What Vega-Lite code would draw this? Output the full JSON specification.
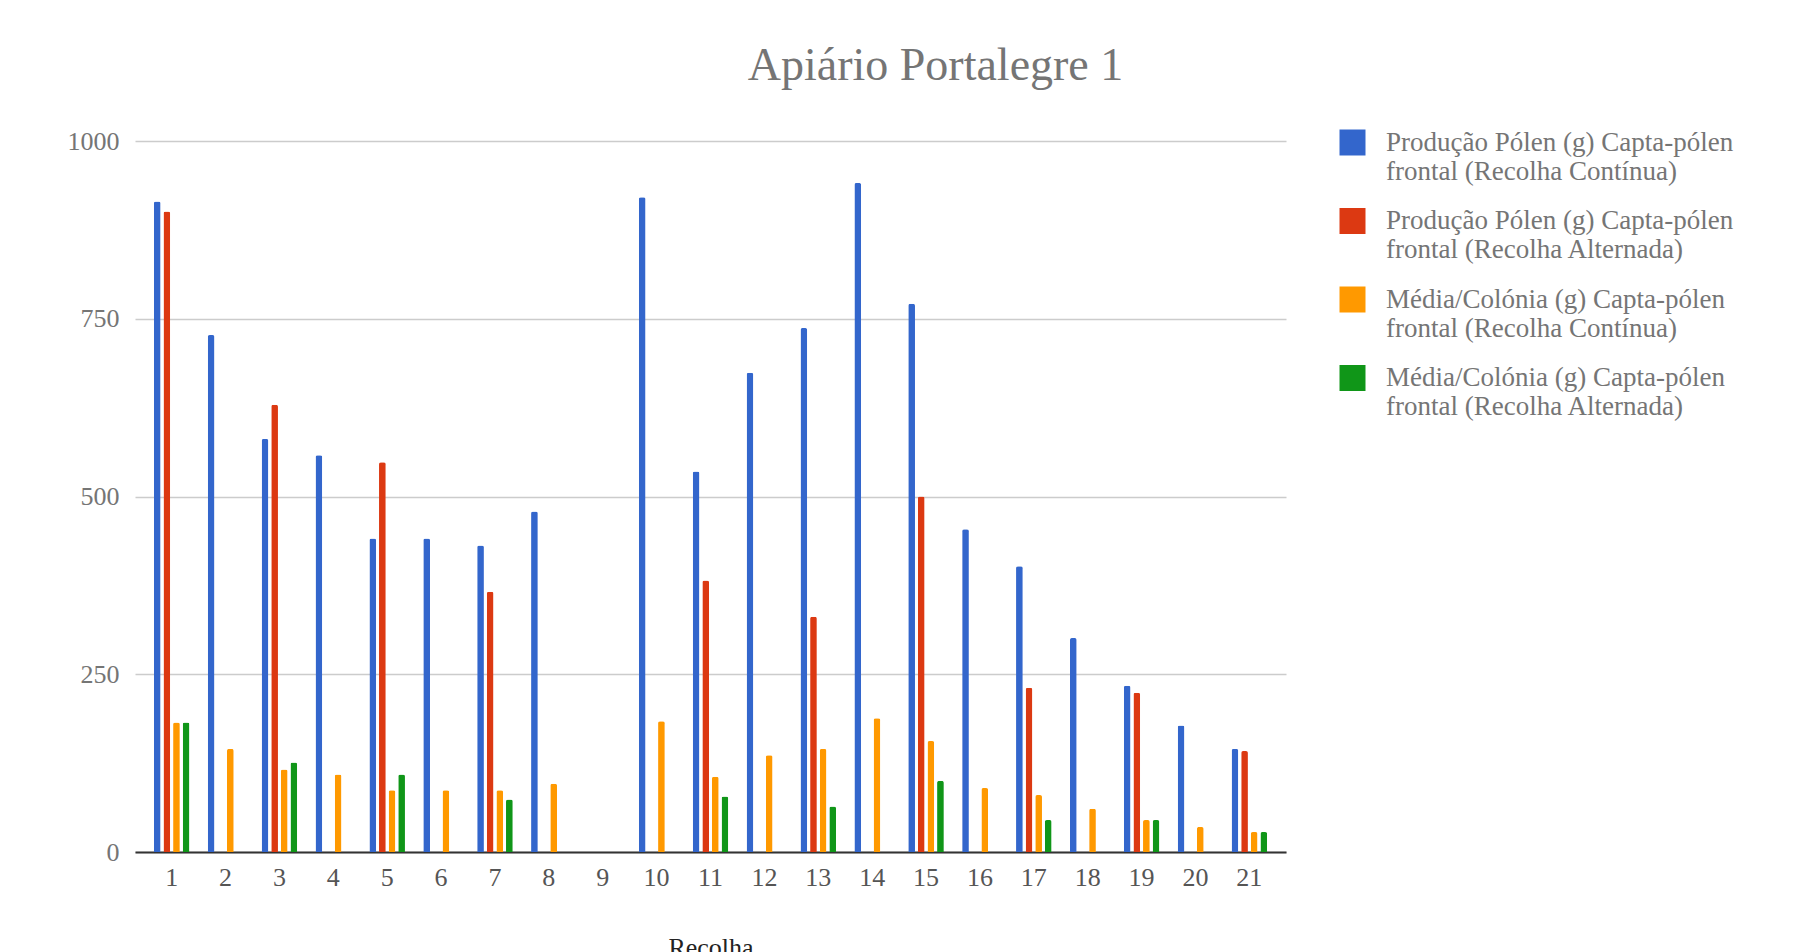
{
  "$schema": "https://vega.github.io/schema/vega-lite/v6.json",
  "autosize": "none",
  "width": 1151,
  "height": 711,
  "padding": {"left": 135, "top": 141, "right": 508, "bottom": 100},
  "background": "white",
  "title": {"text": "Apiário Portalegre 1", "font": "Liberation Serif", "fontSize": 46, "fontWeight": "normal", "color": "#757575", "anchor": "middle", "dx": 225, "offset": 38},
  "data": {"values": [
    {"r": 1, "s": "A", "v": 915}, {"r": 1, "s": "B", "v": 901}, {"r": 1, "s": "C", "v": 182}, {"r": 1, "s": "D", "v": 182},
    {"r": 2, "s": "A", "v": 727}, {"r": 2, "s": "C", "v": 145},
    {"r": 3, "s": "A", "v": 581}, {"r": 3, "s": "B", "v": 629}, {"r": 3, "s": "C", "v": 116}, {"r": 3, "s": "D", "v": 126},
    {"r": 4, "s": "A", "v": 558}, {"r": 4, "s": "C", "v": 109},
    {"r": 5, "s": "A", "v": 441}, {"r": 5, "s": "B", "v": 548}, {"r": 5, "s": "C", "v": 87}, {"r": 5, "s": "D", "v": 109},
    {"r": 6, "s": "A", "v": 441}, {"r": 6, "s": "C", "v": 87},
    {"r": 7, "s": "A", "v": 431}, {"r": 7, "s": "B", "v": 366}, {"r": 7, "s": "C", "v": 87}, {"r": 7, "s": "D", "v": 74},
    {"r": 8, "s": "A", "v": 479}, {"r": 8, "s": "C", "v": 96},
    {"r": 9, "s": "A", "v": 0},
    {"r": 10, "s": "A", "v": 921}, {"r": 10, "s": "C", "v": 184},
    {"r": 11, "s": "A", "v": 535}, {"r": 11, "s": "B", "v": 382}, {"r": 11, "s": "C", "v": 106}, {"r": 11, "s": "D", "v": 78},
    {"r": 12, "s": "A", "v": 674}, {"r": 12, "s": "C", "v": 136},
    {"r": 13, "s": "A", "v": 737}, {"r": 13, "s": "B", "v": 331}, {"r": 13, "s": "C", "v": 145}, {"r": 13, "s": "D", "v": 64},
    {"r": 14, "s": "A", "v": 941}, {"r": 14, "s": "C", "v": 188},
    {"r": 15, "s": "A", "v": 771}, {"r": 15, "s": "B", "v": 500}, {"r": 15, "s": "C", "v": 156}, {"r": 15, "s": "D", "v": 100},
    {"r": 16, "s": "A", "v": 454}, {"r": 16, "s": "C", "v": 90},
    {"r": 17, "s": "A", "v": 402}, {"r": 17, "s": "B", "v": 231}, {"r": 17, "s": "C", "v": 80}, {"r": 17, "s": "D", "v": 45},
    {"r": 18, "s": "A", "v": 301}, {"r": 18, "s": "C", "v": 61},
    {"r": 19, "s": "A", "v": 234}, {"r": 19, "s": "B", "v": 224}, {"r": 19, "s": "C", "v": 45}, {"r": 19, "s": "D", "v": 45},
    {"r": 20, "s": "A", "v": 178}, {"r": 20, "s": "C", "v": 35},
    {"r": 21, "s": "A", "v": 145}, {"r": 21, "s": "B", "v": 142}, {"r": 21, "s": "C", "v": 28}, {"r": 21, "s": "D", "v": 28}
  ]},
  "mark": {"type": "bar", "cornerRadiusTopLeft": 2, "cornerRadiusTopRight": 2},
  "encoding": {
    "x": {"field": "r", "type": "ordinal", "title": "Recolha",
      "scale": {"paddingInner": 0.34, "paddingOuter": 0.35},
      "axis": {"labelAngle": 0, "labelFont": "Liberation Serif", "labelFontSize": 26, "labelColor": "#555555", "labelPadding": 12, "ticks": false, "domainColor": "#333333", "domainWidth": 2, "titleFont": "Liberation Serif", "titleFontSize": 26, "titleFontWeight": "normal", "titleColor": "#222222", "titlePadding": 44}},
    "xOffset": {"field": "s", "type": "nominal", "scale": {"domain": ["A", "B", "C", "D"], "paddingInner": 0.3}},
    "y": {"field": "v", "type": "quantitative", "title": null,
      "scale": {"domain": [0, 1000]},
      "axis": {"values": [0, 250, 500, 750, 1000], "format": "d", "labelFont": "Liberation Serif", "labelFontSize": 26, "labelColor": "#757575", "labelPadding": 16, "ticks": false, "domain": false, "gridColor": "#cccccc", "gridWidth": 1.5}},
    "color": {"field": "s", "type": "nominal", "title": null,
      "scale": {"domain": ["A", "B", "C", "D"], "range": ["#3366cc", "#dc3912", "#ff9900", "#109618"]},
      "legend": {"orient": "none", "legendX": 1204, "legendY": -12, "symbolType": "square", "symbolSize": 676, "symbolStrokeWidth": 0, "labelFont": "Liberation Serif", "labelFontSize": 27, "labelColor": "#757575", "labelOffset": 20, "rowPadding": 21.5, "labelLimit": 500,
        "labelExpr": "datum.label == 'A' ? ['Produção Pólen (g) Capta-pólen', 'frontal (Recolha Contínua)'] : datum.label == 'B' ? ['Produção Pólen (g) Capta-pólen', 'frontal (Recolha Alternada)'] : datum.label == 'C' ? ['Média/Colónia (g) Capta-pólen', 'frontal (Recolha Contínua)'] : ['Média/Colónia (g) Capta-pólen', 'frontal (Recolha Alternada)']"}}
  },
  "config": {"view": {"stroke": null}}
}
